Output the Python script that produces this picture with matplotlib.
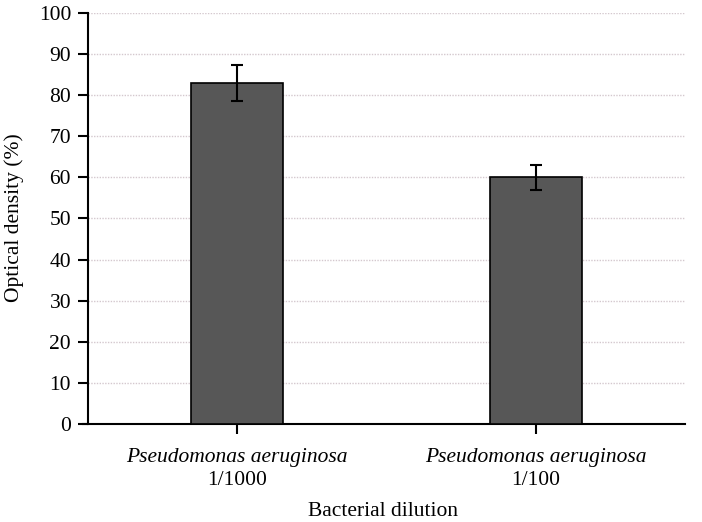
import matplotlib.pyplot as plt
import numpy as np

species = ["Pseudomonas aeruginosa", "Pseudomonas aeruginosa"]
dilutions = ["1/1000", "1/100"]
density = [83, 60]
density_err = [4.3, 3.0]

plt.rcParams['font.family'] = ['Liberation Serif', 'DejaVu Serif']
fs = 15.5

fig = plt.figure(figsize=(7.02, 5.22), dpi=100)
ax = fig.add_axes([0.125, 0.188, 0.851, 0.787])

x = np.arange(len(density))
ax.bar(x, density, width=0.31, color='#575757', edgecolor='black', linewidth=1.2, zorder=3)
ax.errorbar(x, density, yerr=density_err, fmt='none', ecolor='black', elinewidth=1.5,
            capsize=4.5, capthick=1.5, zorder=4)

ax.set_xlim(-0.5, 1.5)
ax.set_ylim(0, 100)
ax.set_yticks(range(0, 101, 10))
ax.yaxis.grid(True, color='#d4c8ce', linestyle=(0, (1, 1)), linewidth=1.0, zorder=0)
ax.set_axisbelow(True)

ax.spines['top'].set_visible(False)
ax.spines['right'].set_visible(False)
ax.spines['left'].set_linewidth(1.5)
ax.spines['bottom'].set_linewidth(1.5)
ax.spines['bottom'].set_bounds(-0.5 - 0.017, 1.5)
ax.tick_params(axis='both', direction='out', length=7, width=1.5, labelsize=fs)
ax.tick_params(axis='y', pad=5)

ax.set_xticks(x)
ax.set_xticklabels(['', ''])
for xi, sp, dl in zip(x, species, dilutions):
    ax.text(xi, -0.082, sp, transform=ax.get_xaxis_transform(), ha='center', va='center',
            fontsize=fs, style='italic')
    ax.text(xi, -0.137, dl, transform=ax.get_xaxis_transform(), ha='center', va='center',
            fontsize=fs)

fig.text(0.02, 0.583, "Optical density (%)", rotation=90, ha='center', va='center', fontsize=fs)
fig.text(0.546, 0.020, "Bacterial dilution", ha='center', va='center', fontsize=fs)

plt.savefig('out.png', dpi=100)
